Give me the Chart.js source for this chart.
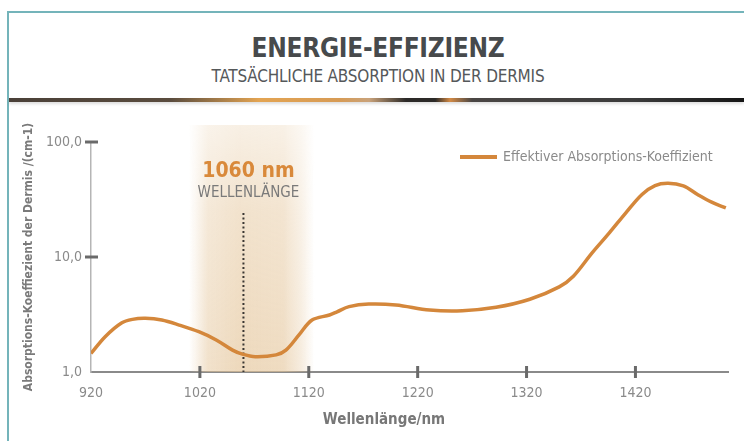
<!DOCTYPE html>
<html lang="de">
<head>
    <meta charset="UTF-8">
    <title>Energie-Effizienz</title>
    <script src="https://cdn.jsdelivr.net/npm/chart.js"></script>
    <style>
        body {
            margin: 0;
            width: 744px;
            height: 441px;
            overflow: hidden;
            background: #fff;
            font-family: 'DejaVu Sans Condensed', sans-serif;
        }
        .frame {
            position: absolute;
            left: 7px;
            top: 11px;
            width: 800px;
            height: 500px;
            border: 2px solid #74b4ba;
        }
        .title {
            position: absolute;
            left: 0;
            width: 756px;
            text-align: center;
            color: #474a4c;
        }
        #t1 { top: 33px; font-size: 26px; font-weight: bold; letter-spacing: -0.3px; }
        #t2 { top: 66px; font-size: 17px; color: #55585a; letter-spacing: -0.2px; }
        .bar {
            position: absolute;
            left: 9px;
            top: 98px;
            width: 735px;
            height: 4px;
            background: linear-gradient(90deg, #4a4038 0%, #5a4c3e 22%, #e3a452 34%, #d79b55 45%, #c9a27a 49%, #2c2a28 54%, #2c2a28 58%, #d38a45 60%, #4a4644 63%, #3b3b3b 85%, #151515 100%);
            box-shadow: 0 2px 3px rgba(120,120,120,0.25);
        }
        canvas { position: absolute; left: 0; top: 0; }
    </style>
</head>
<body>
    <div class="frame"></div>
    <div class="title" id="t1">ENERGIE-EFFIZIENZ</div>
    <div class="title" id="t2">TATSÄCHLICHE ABSORPTION IN DER DERMIS</div>
    <div class="bar"></div>
    <canvas id="chart" width="744" height="441"></canvas>
    <script>
        // Wavelength (nm) and effective absorption coefficient (1/cm)
        const wavelengths = [920, 933, 948, 958, 970, 985, 1001, 1019, 1035, 1050, 1059, 1071, 1090, 1099, 1111, 1123, 1139, 1146, 1157, 1175, 1200, 1231, 1261, 1292, 1323, 1350, 1363, 1380, 1396, 1411, 1426, 1438, 1450, 1464, 1477, 1490, 1503];
        const absorption = [1.45, 2.03, 2.67, 2.87, 2.93, 2.83, 2.56, 2.24, 1.90, 1.55, 1.43, 1.36, 1.41, 1.55, 2.10, 2.83, 3.13, 3.34, 3.70, 3.90, 3.83, 3.46, 3.41, 3.65, 4.29, 5.5, 6.8, 10.8, 16.2, 24.1, 35.0, 41.8, 43.7, 41.5, 35.0, 30.0, 26.7];

        const xTicks = [920, 1020, 1120, 1220, 1320, 1420];
        const yTicks = [1, 10, 100];
        const yTickLabels = ['1,0', '10,0', '100,0'];

        const markerWavelength = 1060;
        const bandRange = [1010, 1125];

        const seriesLabel = 'Effektiver Absorptions-Koeffizient';
        const orange = '#d4873b';
        const grayText = '#8a8a8a';
        const fontFamily = "'DejaVu Sans Condensed', sans-serif";

        const overlay = {
            id: 'overlay',
            beforeDatasetsDraw(chart) {
                const {ctx, chartArea, scales: {x}} = chart;
                const x0 = x.getPixelForValue(bandRange[0]);
                const x1 = x.getPixelForValue(bandRange[1]);
                const top = 125, bottom = chartArea.bottom;
                ctx.save();
                const g = ctx.createLinearGradient(x0, 0, x1, 0);
                g.addColorStop(0, 'rgba(228,196,152,0)');
                g.addColorStop(0.15, 'rgba(228,196,152,0.5)');
                g.addColorStop(0.4, 'rgba(228,196,152,0.65)');
                g.addColorStop(0.75, 'rgba(228,196,152,0.6)');
                g.addColorStop(0.9, 'rgba(228,196,152,0.3)');
                g.addColorStop(1, 'rgba(228,196,152,0)');
                ctx.fillStyle = g;
                ctx.fillRect(x0, top, x1 - x0, bottom - top);
                const v = ctx.createLinearGradient(0, top, 0, bottom);
                v.addColorStop(0, 'rgba(255,255,255,0.6)');
                v.addColorStop(0.35, 'rgba(255,255,255,0.25)');
                v.addColorStop(1, 'rgba(255,255,255,0)');
                ctx.fillStyle = v;
                ctx.fillRect(x0, top, x1 - x0, bottom - top);

                // dotted marker line
                const mx = x.getPixelForValue(markerWavelength);
                ctx.strokeStyle = '#3a3632';
                ctx.lineWidth = 2;
                ctx.setLineDash([2, 2.5]);
                ctx.beginPath();
                ctx.moveTo(mx, 213);
                ctx.lineTo(mx, bottom);
                ctx.stroke();
                ctx.setLineDash([]);

                // marker text
                ctx.textAlign = 'center';
                ctx.textBaseline = 'middle';
                ctx.fillStyle = '#d9893a';
                ctx.font = 'bold 21px ' + fontFamily;
                ctx.fillText(markerWavelength + ' nm', mx + 5, 172);
                ctx.fillStyle = '#7a7a7a';
                ctx.font = '15px ' + fontFamily;
                ctx.fillText('WELLENLÄNGE', mx + 5, 193);
                ctx.restore();
            },
            afterDraw(chart) {
                const {ctx, chartArea, scales: {x, y}} = chart;
                ctx.save();
                ctx.strokeStyle = '#6a6a6a';
                ctx.lineWidth = 3;
                xTicks.slice(1).forEach(v => {
                    const px = x.getPixelForValue(v);
                    ctx.beginPath();
                    ctx.moveTo(px, chartArea.bottom - 6);
                    ctx.lineTo(px, chartArea.bottom + 6);
                    ctx.stroke();
                });
                yTicks.slice(1).forEach(v => {
                    const py = y.getPixelForValue(v);
                    ctx.beginPath();
                    ctx.moveTo(chartArea.left - 6, py);
                    ctx.lineTo(chartArea.left + 7, py);
                    ctx.stroke();
                });

                // legend
                ctx.strokeStyle = orange;
                ctx.lineWidth = 4;
                ctx.beginPath();
                ctx.moveTo(460, 157);
                ctx.lineTo(497, 157);
                ctx.stroke();
                ctx.fillStyle = grayText;
                ctx.font = '14px ' + fontFamily;
                ctx.textAlign = 'left';
                ctx.textBaseline = 'middle';
                ctx.fillText(seriesLabel, 503, 157);

                // x axis title
                ctx.fillStyle = '#777';
                ctx.font = 'bold 15px ' + fontFamily;
                ctx.textAlign = 'center';
                ctx.fillText('Wellenlänge/nm', 384, 420);
                ctx.restore();
            }
        };

        new Chart(document.getElementById('chart'), {
            type: 'line',
            data: {
                datasets: [{
                    label: seriesLabel,
                    data: wavelengths.map((w, i) => ({x: w, y: absorption[i]})),
                    borderColor: orange,
                    borderWidth: 3.5,
                    pointRadius: 0,
                    tension: 0.35,
                    fill: false
                }]
            },
            options: {
                responsive: false,
                animation: false,
                events: [],
                layout: { padding: { top: 142, right: 16, left: 0, bottom: 0 } },
                plugins: {
                    legend: { display: false },
                    tooltip: { enabled: false }
                },
                scales: {
                    x: {
                        type: 'linear',
                        min: 920,
                        max: 1505,
                        afterBuildTicks: s => { s.ticks = xTicks.map(v => ({value: v})); },
                        afterFit: s => { s.height = 69; },
                        grid: { display: false, drawTicks: false },
                        border: { display: true, color: '#8a8a8a', width: 2 },
                        ticks: {
                            padding: 13,
                            color: grayText,
                            font: { family: fontFamily, size: 14 },
                            callback: v => String(v)
                        }
                    },
                    y: {
                        type: 'logarithmic',
                        min: 1,
                        max: 100,
                        afterBuildTicks: s => { s.ticks = yTicks.map(v => ({value: v})); },
                        afterFit: s => { s.width = 91; },
                        grid: { display: false, drawTicks: false },
                        border: { display: true, color: '#b5b5b5', width: 1.5 },
                        ticks: {
                            padding: 9,
                            color: grayText,
                            font: { family: fontFamily, size: 14 },
                            callback: v => yTickLabels[yTicks.indexOf(v)]
                        },
                        title: {
                            display: true,
                            text: 'Absorptions-Koeffiezient der Dermis /(cm-1)',
                            color: '#7a7a7a',
                            font: { family: fontFamily, size: 12, weight: 'bold' },
                            padding: { top: 22, bottom: 0 }
                        }
                    }
                }
            },
            plugins: [overlay]
        });
    </script>
</body>
</html>
